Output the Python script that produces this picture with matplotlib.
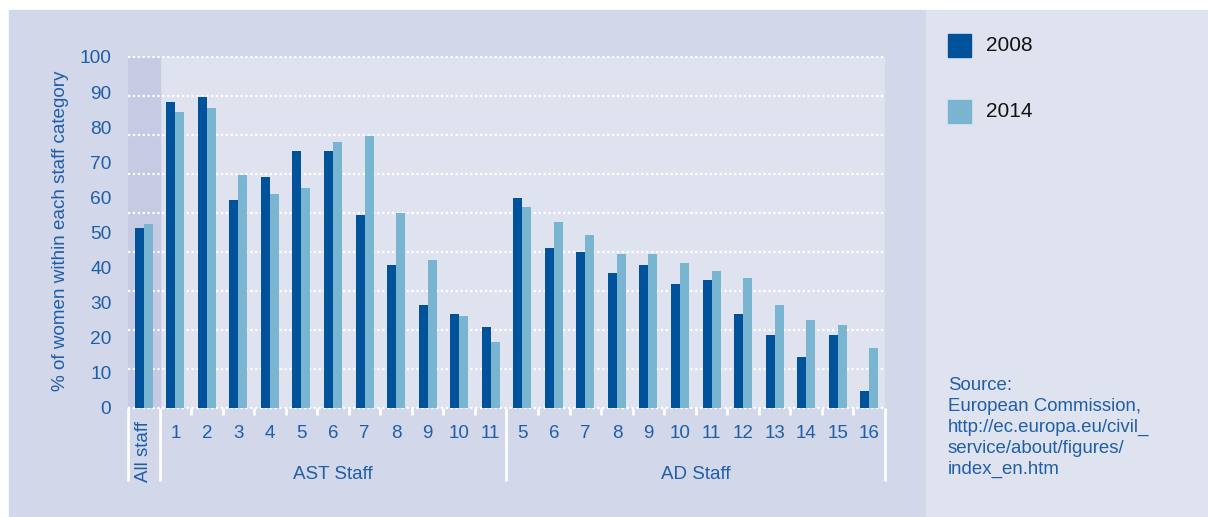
import numpy as np
import matplotlib
matplotlib.use("Agg")
import matplotlib.pyplot as plt
from matplotlib.patches import Rectangle

plt.rcParams['font.family'] = ['Liberation Sans', 'DejaVu Sans']

# data
ast_grades = ["1", "2", "3", "4", "5", "6", "7", "8", "9", "10", "11"]
ad_grades = ["5", "6", "7", "8", "9", "10", "11", "12", "13", "14", "15", "16"]

all_2008 = 51.2
all_2014 = 52.4
ast_2008 = [87.1, 88.5, 59.2, 65.8, 73.2, 73.2, 55.0, 40.7, 29.3, 26.7, 23.0]
ast_2014 = [84.3, 85.4, 66.3, 60.9, 62.6, 75.7, 77.4, 55.5, 42.1, 26.2, 18.7]
ad_2008 = [59.8, 45.5, 44.4, 38.4, 40.7, 35.3, 36.4, 26.7, 20.8, 14.5, 20.8, 4.8]
ad_2014 = [57.2, 53.0, 49.3, 43.8, 43.8, 41.3, 39.0, 37.0, 29.3, 25.0, 23.6, 17.1]

years = ["2008", "2014"]
source_text = ("Source:\nEuropean Commission,\nhttp://ec.europa.eu/civil_\n"
               "service/about/figures/\nindex_en.htm")

C2008 = "#00529b"
C2014 = "#79b4d1"
TXT = "#1f5ea8"
BG_LEFT = "#d3d7ea"
BG_RIGHT = "#dfe3ef"
W, H = 1208, 517

v2008 = [all_2008] + ast_2008 + ad_2008
v2014 = [all_2014] + ast_2014 + ad_2014
x = np.arange(len(v2008))

fig = plt.figure(figsize=(W / 100, H / 100), dpi=100, facecolor="white")

# panel backgrounds
fig.patches.append(Rectangle((9 / W, 0), (926 - 9) / W, (H - 10) / H,
                             transform=fig.transFigure, color=BG_LEFT, zorder=-10))
fig.patches.append(Rectangle((926 / W, 0), (W - 926) / W, (H - 10) / H,
                             transform=fig.transFigure, color=BG_RIGHT, zorder=-10))

ax = fig.add_axes([128 / W, (H - 408) / H, (885 - 128) / W, (408 - 57) / H])
ax.set_facecolor(BG_RIGHT)
ax.axvspan(-0.5, 0.5, color="#c6cae3", zorder=0)

bw = 0.285
ax.bar(x - bw / 2, v2008, width=bw, color=C2008, zorder=3)
ax.bar(x + bw / 2, v2014, width=bw, color=C2014, zorder=3)

# dotted white gridlines (spaced in ninths, as in the original)
for gy in np.linspace(0, 100, 10):
    ax.axhline(gy, color="white", lw=1.6, ls=(0, (1, 1.2)), zorder=2, clip_on=False)

ax.set_xlim(-0.5, len(x) - 0.5)
ax.set_ylim(0, 100)
for s in ax.spines.values():
    s.set_visible(False)

ax.set_yticks(range(0, 101, 10))
ax.tick_params(axis="y", length=0, pad=12, labelsize=13.8, labelcolor=TXT)
ax.set_ylabel("% of women within each staff category", fontsize=13.6, color=TXT)
ax.yaxis.set_label_coords(-0.078, 0.505)

ax.set_xticks(x[1:])
ax.set_xticklabels(ast_grades + ad_grades)
ax.tick_params(axis="x", length=0, pad=12, labelsize=13.5, labelcolor=TXT)

# category separators and ticks below the axis
trans = ax.get_xaxis_transform()
n_ast = len(ast_grades)
long_x = [-0.5, 0.5, n_ast + 0.5, len(x) - 0.5]
short_x = [b for b in np.arange(1.5, len(x) - 1, 1.0) if b not in long_x]
ax.vlines(long_x, -0.208, 0, color="white", lw=2, transform=trans, clip_on=False)
ax.vlines(short_x, -0.02, 0, color="white", lw=2, transform=trans, clip_on=False)

ax.text(0, -0.036, "All staff", rotation=90, ha="center", va="top",
        fontsize=13.5, color=TXT, transform=trans)
ax.text((1 + n_ast) / 2, -0.19, "AST Staff", ha="center", va="center",
        fontsize=13.5, color=TXT, transform=trans)
ax.text((n_ast + 1 + len(x) - 1) / 2, -0.19, "AD Staff", ha="center", va="center",
        fontsize=13.5, color=TXT, transform=trans)

# legend drawn by hand in the right panel
for i, (lab, col) in enumerate(zip(years, [C2008, C2014])):
    top = 34 + i * 66
    fig.patches.append(Rectangle((948 / W, (H - top - 23) / H), 23 / W, 23 / H,
                                 transform=fig.transFigure, color=col))
    fig.text(986 / W, (H - top - 11.5) / H, lab, fontsize=15, color="#111111",
             va="center", ha="left")

fig.text(948 / W, (H - 377) / H, source_text, fontsize=13.4, color=TXT,
         va="top", ha="left", linespacing=1.3)

fig.savefig("out.png", dpi=100, facecolor="white")
